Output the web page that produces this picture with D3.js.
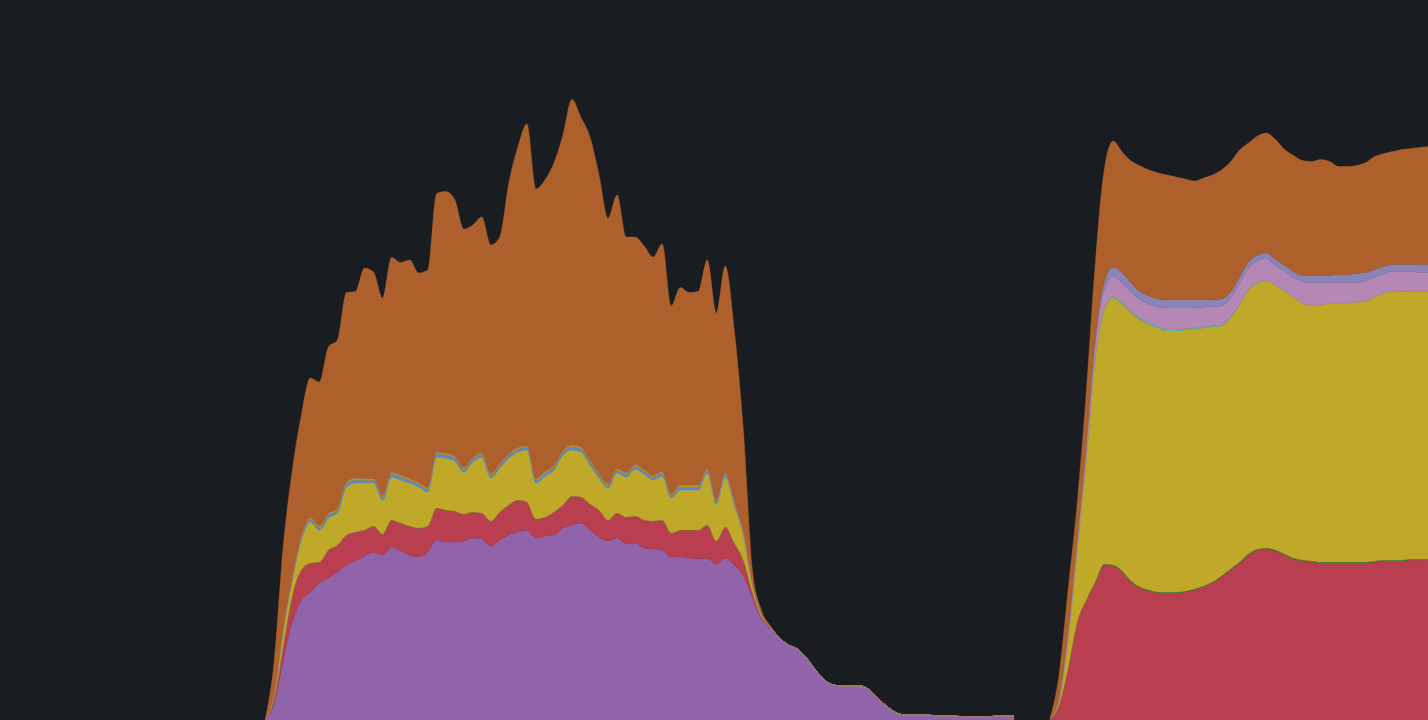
<!DOCTYPE html>
<html>
<head>
<meta charset="utf-8">
<script src="https://cdn.jsdelivr.net/npm/d3@7"></script>
<style>
  html, body { margin: 0; padding: 0; background: #191c21; overflow: hidden; }
  svg { display: block; }
</style>
</head>
<body>
<svg id="chart" width="1428" height="720"></svg>
<script>
// ---- data (sample index = one interval; gap of missing samples between the two segments) ----
const seriesKeys = ["purple", "red", "green", "yellow", "teal", "blue", "gold", "pink", "lavender", "orange"];
const seriesColors = ["#9163aa", "#b93e4f", "#3d7a3a", "#c0a828", "#5fb6b8", "#5a88cb", "#b8951f", "#b587b4", "#8a83b8", "#ad602b"];

// segment 1: samples 0..83
const segment1Start = 0;
const segment1Length = 84;
const purple1 = [0, 1.7, 6.0, 9.8, 12.0, 12.8, 13.7, 14.2, 14.8, 15.5, 15.9, 16.4, 16.8, 16.5, 17.3, 16.9, 16.5, 16.3, 16.8, 18.0,
  17.8, 17.8, 17.9, 18.2, 18.1, 17.4, 18.0, 18.5, 18.8, 19.0, 18.2, 18.4, 18.5, 19.2, 19.5, 19.7, 19.0, 18.3, 17.9, 18.2,
  17.6, 17.7, 17.2, 17.1, 17.0, 16.3, 16.3, 16.2, 16.1, 16.2, 15.6, 16.2, 15.5, 14.4, 12.2, 10.1, 9.2, 8.2, 7.5, 7.1,
  6.2, 5.0, 4.0, 3.5, 3.4, 3.4, 3.4, 3.0, 2.1, 1.3, 0.7, 0.5, 0.5, 0.5, 0.45, 0.4, 0.4, 0.35, 0.3, 0.3,
  0.3, 0.3, 0.3, 0.3];
const red1 = [0, 0.5, 1.5, 2.7, 3.0, 2.9, 2.1, 2.8, 2.7, 3.0, 2.9, 2.6, 2.6, 2.1, 2.7, 2.8, 2.9, 2.9, 2.6, 3.2,
  3.2, 3.1, 2.7, 2.6, 2.6, 2.5, 2.8, 3.0, 3.2, 2.8, 1.9, 1.9, 2.3, 2.3, 2.9, 2.6, 2.6, 2.7, 2.1, 2.5,
  2.7, 2.7, 2.8, 2.8, 3.0, 2.4, 2.7, 2.8, 2.9, 3.3, 2.3, 3.1, 2.2, 1.6, 0.6, 0.2, 0.05];
const yellow1 = [0, 0.5, 1.5, 1.5, 3.0, 4.1, 3.2, 3.2, 3.2, 4.8, 4.9, 4.7, 4.3, 3.4, 4.3, 4.3, 4.3, 4.1, 3.4, 5.1,
  5.2, 5.0, 4.2, 5.0, 5.6, 4.3, 4.4, 4.7, 4.8, 5.2, 3.6, 4.1, 4.2, 5.0, 4.6, 4.5, 3.9, 3.2, 3.2, 4.0,
  4.0, 4.7, 4.6, 4.1, 4.4, 3.5, 4.0, 4.0, 4.0, 5.2, 3.7, 5.0, 3.8, 2.5, 0.7, 0.2, 0.05, 0, 0, 0,
  0, 0, 0, 0, 0, 0, 0, 0, 0, 0, 0, 0, 0, 0, 0, 0, 0, 0, 0, 0,
  0, 0.1, 0.1, 0.1];
const blue1 = [0, 0, 0.1, 0.15, 0.2, 0.25, 0.25, 0.25, 0.25, 0.3, 0.3, 0.25, 0.25, 0.25, 0.3, 0.3, 0.25, 0.25, 0.25, 0.3,
  0.3, 0.3, 0.25, 0.25, 0.25, 0.25, 0.25, 0.25, 0.25, 0.25, 0.25, 0.25, 0.25, 0.25, 0.3, 0.3, 0.25, 0.25, 0.2, 0.25,
  0.25, 0.25, 0.25, 0.25, 0.25, 0.25, 0.3, 0.3, 0.3, 0.25, 0.25, 0.25, 0.2, 0.2, 0.1, 0.05, 0];
const gold1 = [0, 0, 0.1, 0.15, 0.2, 0.2, 0.2, 0.2, 0.2, 0.2, 0.2, 0.2, 0.2, 0.2, 0.2, 0.2, 0.2, 0.2, 0.2, 0.2,
  0.2, 0.2, 0.2, 0.2, 0.2, 0.2, 0.2, 0.2, 0.2, 0.2, 0.2, 0.2, 0.2, 0.2, 0.2, 0.2, 0.2, 0.2, 0.2, 0.2,
  0.2, 0.2, 0.2, 0.2, 0.2, 0.2, 0.2, 0.2, 0.2, 0.2, 0.2, 0.2, 0.2, 0.2, 0.1, 0.05, 0];
const orange1 = [0, 3.3, 8.3, 10.7, 12.1, 13.95, 14.35, 16.65, 16.85, 18.95, 18.65, 21.05, 20.65, 19.75, 21.45, 21.25, 21.85, 20.95, 21.75, 25.85,
  26.15, 25.65, 23.85, 23.25, 23.55, 22.85, 22.65, 27.05, 30.05, 32.15, 28.95, 29.15, 30.25, 31.55, 34.55, 32.95, 32.35, 29.85, 26.55, 27.35,
  23.55, 22.75, 22.35, 21.85, 22.75, 18.75, 19.75, 19.25, 19.35, 20.85, 18.65, 20.65, 17.05, 10.1, 1.3, 0.4, 0.1];

// segment 2: samples 87..129
const segment2Start = 87;
const segment2Length = 43;
const red2 = [0.1, 1.5, 5.2, 9.8, 12.0, 13.7, 15.5, 15.4, 14.8, 13.8, 13.2, 12.9, 12.7, 12.7, 12.7, 12.8, 13.0, 13.3, 13.7, 14.3,
  15.0, 15.7, 16.5, 17.0, 17.1, 16.9, 16.5, 16.1, 15.9, 15.8, 15.7, 15.7, 15.7, 15.7, 15.7, 15.7, 15.8, 15.9, 15.9, 15.9,
  16.0, 16.0, 16.0];
const green2 = [0, 0, 0, 0, 0, 0.1, 0.1, 0.1, 0.1, 0.1, 0.1, 0.1, 0.1, 0.1, 0.1, 0.1, 0.1, 0.1, 0.1, 0.1,
  0.1, 0.1, 0.1, 0.1, 0.1, 0.1, 0.1, 0.1, 0.1, 0.1, 0.1, 0.1, 0.1, 0.1, 0.1, 0.1, 0.1, 0.1, 0.1, 0.1,
  0.1, 0.1, 0.1];
const yellow2 = [0, 0.5, 3.0, 7.2, 14.0, 22.2, 25.4, 26.7, 26.7, 26.8, 26.7, 26.5, 26.4, 26.1, 26.1, 26.1, 26.0, 25.8, 25.5, 25.0,
  25.1, 25.7, 26.4, 26.6, 26.7, 26.5, 26.3, 26.1, 25.7, 25.6, 25.7, 25.9, 25.9, 25.9, 26.0, 26.1, 26.4, 26.7, 26.9, 26.9,
  26.8, 26.8, 26.8];
const teal2 = [0, 0, 0.05, 0.1, 0.15, 0.15, 0.15, 0.15, 0.15, 0.15, 0.15, 0.15, 0.15, 0.15, 0.15, 0.15, 0.15, 0.15, 0.15, 0.15,
  0.15, 0.1, 0.1, 0.1, 0.05];
const pink2 = [0, 0.1, 0.3, 0.5, 0.75, 1.35, 1.85, 2.05, 1.95, 1.95, 1.85, 1.95, 1.95, 2.15, 2.15, 2.05, 1.95, 1.95, 1.85, 1.85,
  1.85, 2.1, 2.1, 2.1, 2.15, 1.95, 1.95, 1.95, 2.15, 2.25, 2.25, 2.05, 2.05, 2.05, 1.95, 2.05, 1.95, 1.95, 1.95, 1.95,
  1.95, 1.85, 1.85];
const lavender2 = [0, 0.1, 0.2, 0.3, 0.4, 0.5, 0.8, 0.9, 1.0, 0.9, 0.8, 0.8, 0.8, 0.8, 0.8, 0.8, 0.8, 0.7, 0.7, 0.7,
  0.6, 0.6, 0.6, 0.6, 0.6, 0.6, 0.6, 0.6, 0.6, 0.7, 0.7, 0.7, 0.8, 0.8, 0.9, 0.8, 0.8, 0.7, 0.7, 0.7,
  0.7, 0.8, 0.8];
const orange2 = [0.1, 2.3, 4.3, 3.7, 5.3, 7.5, 11.2, 12.6, 12.1, 12.2, 12.6, 12.6, 12.6, 12.5, 12.3, 12.1, 11.9, 12.2, 12.5, 12.9,
  13.0, 12.7, 11.9, 11.9, 12.0, 12.0, 11.6, 11.6, 11.5, 11.4, 11.6, 11.4, 10.8, 10.8, 10.8, 11.0, 11.3, 11.3, 11.3, 11.5,
  11.6, 11.7, 11.8];

const xDomain = [-29.41, 128.9];
const yDomain = [0, 72];

// ---- build ----
const segments = [
  { start: segment1Start, length: segment1Length,
    values: { purple: purple1, red: red1, yellow: yellow1, blue: blue1, gold: gold1, orange: orange1 } },
  { start: segment2Start, length: segment2Length,
    values: { red: red2, green: green2, yellow: yellow2, teal: teal2, pink: pink2, lavender: lavender2, orange: orange2 } }
];

const width = 1428, height = 720;
const svg = d3.select("#chart");
svg.append("rect").attr("width", width).attr("height", height).attr("fill", "#191c21");

const x = d3.scaleLinear().domain(xDomain).range([0, width]);
const y = d3.scaleLinear().domain(yDomain).range([height, 0]);
const color = d3.scaleOrdinal().domain(seriesKeys).range(seriesColors);

const stack = d3.stack().keys(seriesKeys);
const area = d3.area()
  .curve(d3.curveMonotoneX)
  .x(d => x(d.data.t))
  .y0(d => y(d[0]))
  .y1(d => y(d[1]));

segments.forEach(seg => {
  const rows = d3.range(seg.length).map(i => {
    const row = { t: seg.start + i };
    seriesKeys.forEach(k => {
      const arr = seg.values[k];
      row[k] = arr && arr[i] != null ? arr[i] : 0;
    });
    return row;
  });
  const layers = stack(rows);
  svg.append("g").selectAll("path")
    .data(layers)
    .join("path")
    .attr("d", area)
    .attr("fill", d => color(d.key))
    .attr("stroke", d => color(d.key))
    .attr("stroke-width", 0.4);
});
</script>
</body>
</html>
